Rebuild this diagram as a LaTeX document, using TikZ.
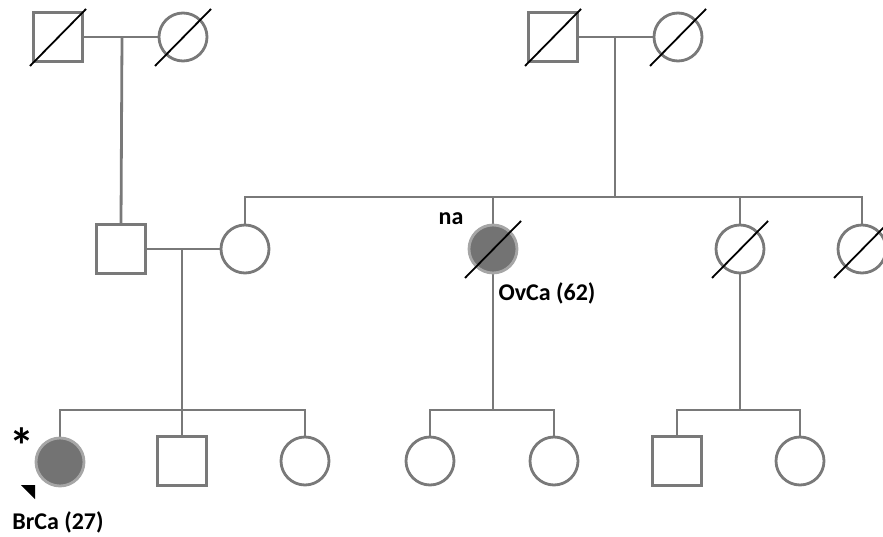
\documentclass[tikz,border=0pt]{standalone}
\usepackage{fontspec}
\setmainfont{Carlito}
\usetikzlibrary{positioning, calc, backgrounds}

\begin{document}
\begin{tikzpicture}[
        x=1pt, y=-1pt,
        line/.style={draw=gray!95!black, line width=2.8pt},
        male/.style={rectangle, draw=gray!95!black, line width=2.8pt, fill=white, minimum size=49pt, inner sep=0pt},
        female/.style={circle, draw=gray!95!black, line width=2.8pt, fill=white, minimum size=48pt, inner sep=0pt},
        affected/.style={fill=gray!90!black, draw=gray!70},
        slash/.style={draw=black, line width=1.8pt},
        label/.style={font=\fontsize{24}{28}\selectfont\bfseries, inner sep=0pt}
    ]
        \useasboundingbox (0,0) rectangle (883,537);

        % grandparents
        \node[male] (gf1) at (58,37) {};
        \node[female] (gm1) at (183,37) {};
        \node[male] (gf2) at (553,37) {};
        \node[female] (gm2) at (678,37) {};

        % parents, aunts
        \node[male] (father) at (121,249) {};
        \node[female] (mother) at (245,249) {};
        \node[female, affected] (aunt) at (493,249) {};
        \node[female] (aunt2) at (740,249) {};
        \node[female] (aunt3) at (862,249) {};

        % children
        \node[female, affected] (proband) at (60,462) {};
        \node[male] (bro) at (182,461) {};
        \node[female] (sis) at (305,461) {};
        \node[female] (cous1) at (430,461) {};
        \node[female] (cous2) at (554,461) {};
        \node[male] (cous3) at (677,461) {};
        \node[female] (cous4) at (800,461) {};

        \coordinate (sib1) at (615,197);
        \coordinate (kids1) at (182,410);
        \coordinate (kids2) at (493,410);
        \coordinate (kids3) at (740,410);

        \begin{scope}[on background layer]
            \draw[line] (gf1) -- (gm1);
            \draw[line] (gf2) -- (gm2);
            \draw[line] (father) -- (mother);
            \draw[line] (122,37) -- (father.north);
            \draw[line] (615,37) -- (sib1);
            \draw[line] (mother.north) |- (sib1) -| (aunt3.north);
            \draw[line] (aunt.north) -- (aunt.north |- sib1);
            \draw[line] (aunt2.north) -- (aunt2.north |- sib1);
            \draw[line] (182,249) -- (bro.north);
            \draw[line] (proband.north) |- (kids1) -| (sis.north);
            \draw[line] (aunt.south) -- (kids2);
            \draw[line] (cous1.north) |- (kids2) -| (cous2.north);
            \draw[line] (aunt2.south) -- (kids3);
            \draw[line] (cous3.north) |- (kids3) -| (cous4.north);
        \end{scope}

        % deceased
        \foreach \p in {gf1, gm1, gf2, gm2, aunt, aunt2, aunt3}
            \draw[slash] ($(\p.center)+(-28,29)$) -- ($(\p.center)+(28,-28)$);

        % labels
        \node[label] (na) at (451,219) {na};
        \node[label] (ovca) at (547,293) {OvCa (62)};
        \node[label, font=\fontsize{50}{50}\selectfont\bfseries] (star) at (22,446) {*};
        \node[label] (brca) at (58,522) {BrCa (27)};
        \fill (21,485) -- (35,485) -- (35,499) -- cycle;
    \end{tikzpicture}
\end{document}
